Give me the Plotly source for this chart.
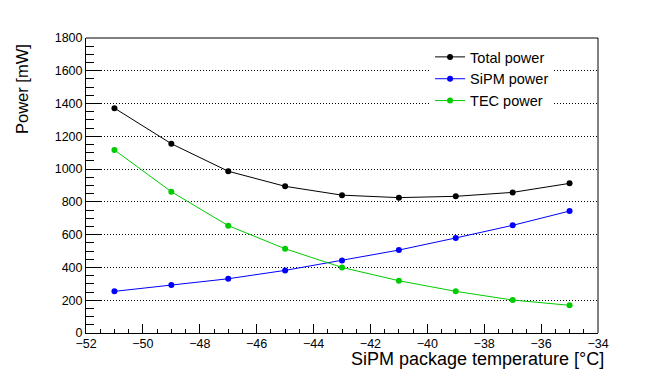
import plotly.graph_objects as go

# SiPM package temperature [°C]
temperature = [-51, -49, -47, -45, -43, -41, -39, -37, -35]

# power readings [mW]
total_power = [1372, 1155, 987, 895, 841, 826, 834, 858, 913]
sipm_power = [254, 293, 331, 382, 443, 506, 580, 657, 744]
tec_power = [1117, 862, 655, 514, 400, 319, 254, 201, 169]

series = [
    ("Total power", total_power, "black"),
    ("SiPM power", sipm_power, "#0000ff"),
    ("TEC power", tec_power, "#00cc00"),
]

font = "Liberation Sans, Arial, sans-serif"

fig = go.Figure()
for name, vals, col in series:
    fig.add_trace(
        go.Scatter(
            x=temperature,
            y=vals,
            mode="lines+markers",
            name=name,
            line=dict(color=col, width=1),
            marker=dict(color=col, size=6),
        )
    )

# page body has an 8px margin, so the figure is 8px smaller than the window
fig.update_layout(
    width=656,
    height=375,
    margin=dict(l=78, r=66, t=30, b=50),
    paper_bgcolor="white",
    plot_bgcolor="white",
    font=dict(family=font, size=12.5, color="black"),
    showlegend=True,
    legend=dict(
        x=0.672, y=0.99, xanchor="left", yanchor="top",
        bgcolor="white",
        font=dict(size=14.5),
        itemwidth=30,
        entrywidth=98,
    ),
    xaxis=dict(
        range=[-52, -34],
        tickmode="linear", tick0=-52, dtick=2,
        ticks="inside", ticklen=9, tickcolor="black",
        minor=dict(dtick=0.5, ticks="inside", ticklen=4.5, tickcolor="black"),
        showline=True, linecolor="black", linewidth=1,
        showgrid=False, zeroline=False,
        tickfont=dict(size=12.5),
        ticklabelstandoff=-1,
    ),
    yaxis=dict(
        range=[0, 1800],
        tickmode="linear", tick0=0, dtick=200,
        ticks="inside", ticklen=15, tickcolor="black",
        minor=dict(dtick=50, ticks="inside", ticklen=7.5, tickcolor="black"),
        showline=True, linecolor="black", linewidth=1,
        showgrid=True, gridcolor="black", griddash="1px,2px", gridwidth=1,
        zeroline=False,
        tickfont=dict(size=12.5),
    ),
    shapes=[
        dict(type="line", xref="paper", yref="paper", x0=0, x1=1, y0=1, y1=1,
             line=dict(color="#808080", width=2)),
        dict(type="line", xref="paper", yref="paper", x0=1, x1=1, y0=0, y1=1,
             line=dict(color="black", width=1)),
    ],
    annotations=[
        dict(text="SiPM package temperature [°C]", xref="paper", yref="paper",
             x=1, y=0, xanchor="right", yanchor="middle", xshift=7, yshift=-26,
             borderpad=0, showarrow=False, font=dict(size=18)),
        dict(text="Power [mW]", xref="paper", yref="paper",
             x=0, y=1, xanchor="center", yanchor="top", xshift=-64, yshift=-4,
             textangle=-90, showarrow=False, font=dict(size=16.5)),
    ],
)

fig.write_html("out.html")
